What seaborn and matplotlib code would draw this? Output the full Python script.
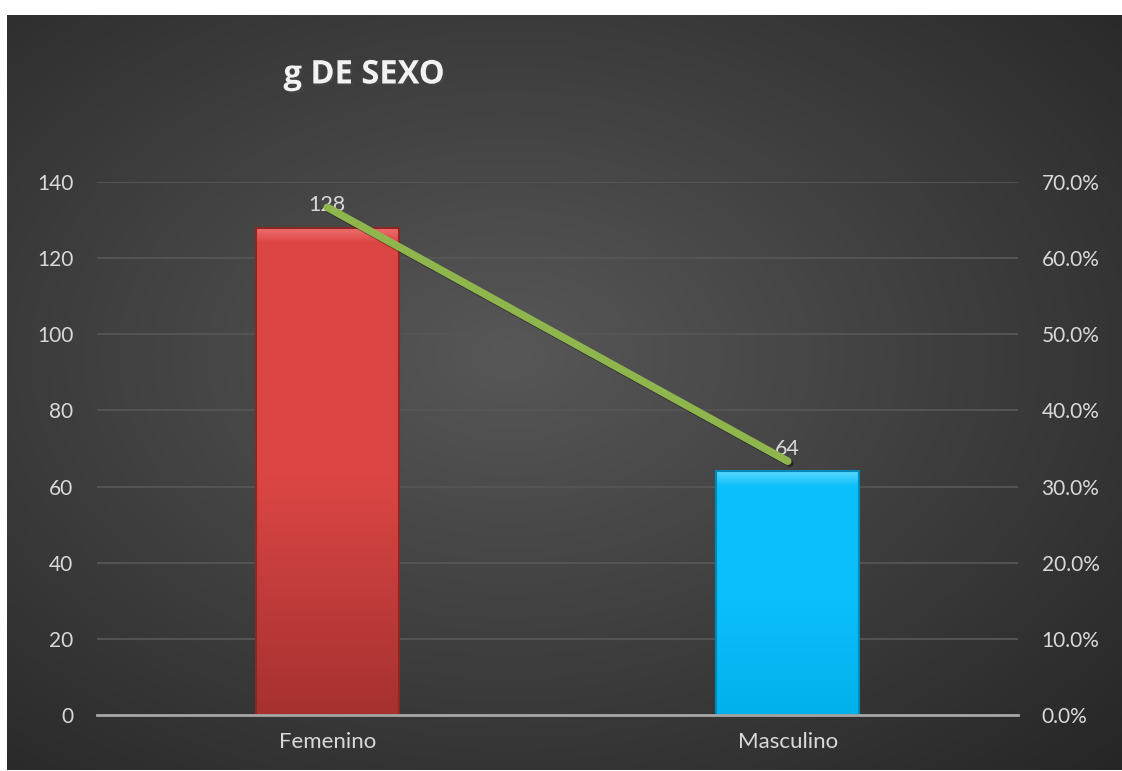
import numpy as np
import pandas as pd
import matplotlib
matplotlib.use('Agg')
import matplotlib.pyplot as plt
import matplotlib.patheffects as pe
from matplotlib.colors import LinearSegmentedColormap
import seaborn as sns

# datos
categorias = ['Femenino', 'Masculino']
cantidades = [128, 64]
porcentajes = [0.6667, 0.3333]
ticks_izq = [0, 20, 40, 60, 80, 100, 120, 140]
ticks_der = [0.0, 0.1, 0.2, 0.3, 0.4, 0.5, 0.6, 0.7]

df = pd.DataFrame({'sexo': categorias, 'cantidad': cantidades, 'pct': porcentajes})

sns.set_style('white')
plt.rcParams['font.family'] = ['Lato', 'DejaVu Sans']

fig = plt.figure(figsize=(11.22, 7.71), dpi=100, facecolor='white')

# fondo oscuro con degradado radial
bg = fig.add_axes([7 / 1122, 1 / 771, 1115 / 1122, 755 / 771], zorder=-10)
yy, xx = np.mgrid[0:1:400j, 0:1:600j]
r = np.sqrt(((xx - 0.45) / 0.75) ** 2 + ((yy - 0.45) / 0.75) ** 2)
r = np.clip(r / r.max(), 0, 1)
fondo = LinearSegmentedColormap.from_list('fondo', ['#575757', '#262626'])
bg.imshow(r, cmap=fondo, aspect='auto', extent=[0, 1, 0, 1], origin='upper')
bg.set_axis_off()

ax = fig.add_axes([97 / 1122, 56 / 771, 921 / 1122, 533 / 771])
ax.set_facecolor('none')

sns.barplot(data=df, x='sexo', y='cantidad', color='#D43F3D', width=0.31,
            edgecolor='none', ax=ax, zorder=3)

# degradado vertical dentro de cada barra, con un borde claro arriba
grad_colores = [('#DB4644', '#A63131', '#8A2826', '#F07070'),
                ('#0BBFFA', '#00B2EC', '#0088B8', '#5AD6FF')]
for barra, (c_top, c_bot, c_edge, c_luz) in zip(ax.patches, grad_colores):
    x0, y0 = barra.get_x(), barra.get_y()
    x1, y1 = x0 + barra.get_width(), y0 + barra.get_height()
    cmap = LinearSegmentedColormap.from_list('b', [c_bot, c_top, c_top, c_luz])
    frac = 1 - 4.0 / (y1 - y0)  # franja clara arriba
    vals = np.linspace(0, 1, 512)
    capa = np.where(vals < frac, vals / frac * 0.66, 0.66 + (vals - frac) / (1 - frac) * 0.34)
    im = ax.imshow(capa.reshape(-1, 1), cmap=cmap, aspect='auto', extent=[x0, x1, y0, y1],
                   origin='lower', zorder=3.5)
    im.set_clip_path(barra)
    barra.set_edgecolor(c_edge)
    barra.set_linewidth(1.5)
    barra.set_facecolor('none')
    barra.set_zorder(4)

ax.set_xlim(-0.5, 1.5)
ax.set_ylim(0, 140)
ax.set_yticks(ticks_izq)
ax.set_xlabel('')
ax.set_ylabel('')
ax.yaxis.grid(True, color='#565656', linewidth=1.3, zorder=0)
ax.set_axisbelow(True)
for s in ['top', 'left', 'right']:
    ax.spines[s].set_visible(False)
ax.spines['bottom'].set_color('#A6A6A6')
ax.spines['bottom'].set_linewidth(2)
ax.spines['bottom'].set_zorder(5)
ax.tick_params(axis='y', length=0, pad=17, labelsize=15, labelcolor='#D9D9D9')
ax.tick_params(axis='x', length=0, pad=12, labelsize=16, labelcolor='#D9D9D9')

ax.bar_label(ax.containers[0], labels=[str(v) for v in cantidades], padding=9,
             color='#D9D9D9', fontsize=15.5, zorder=6)

# eje secundario con porcentaje
ax2 = ax.twinx()
sns.lineplot(data=df, x='sexo', y='pct', ax=ax2, color='#8FB64D', linewidth=5.5,
             sort=False, solid_capstyle='round',
             path_effects=[pe.SimpleLineShadow(offset=(1.5, -1.5), alpha=0.4), pe.Normal()])
ax2.set_ylim(0, 0.7)
ax2.set_yticks(ticks_der)
ax2.set_yticklabels([f'{t * 100:.1f}%' for t in ticks_der])
ax2.set_ylabel('')
ax2.set_xlabel('')
for s in ['top', 'left', 'right', 'bottom']:
    ax2.spines[s].set_visible(False)
ax2.tick_params(axis='y', length=0, pad=17, labelsize=15, labelcolor='#D9D9D9')
ax2.grid(False)

fig.text(364 / 1122, 1 - 75 / 771, 'g DE SEXO', ha='center', va='center',
         fontsize=23.5, fontweight='bold', color='#F2F2F2',
         family=['Open Sans', 'DejaVu Sans'],
         path_effects=[pe.withSimplePatchShadow(offset=(1.5, -1.5), alpha=0.5)])

fig.savefig('out.png', dpi=100, facecolor='white')
